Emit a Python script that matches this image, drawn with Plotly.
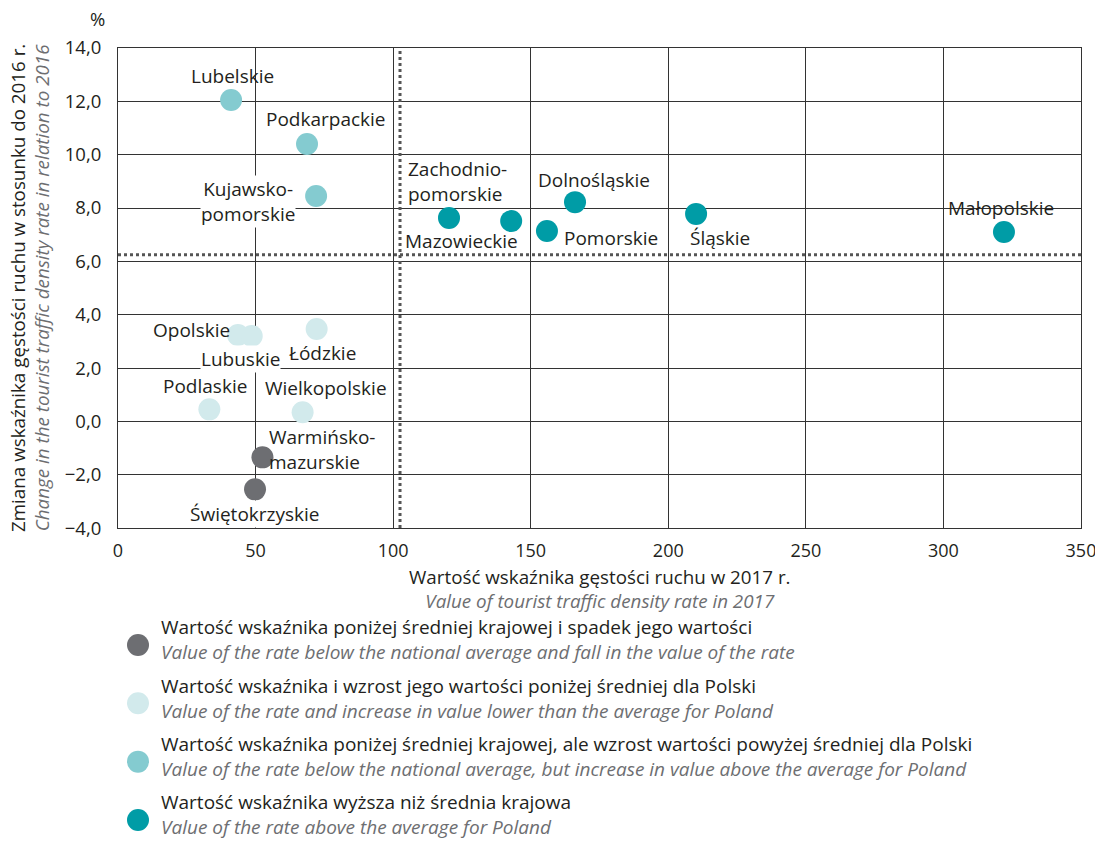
import plotly.graph_objects as go

# ---------------- data ----------------
regions = ["Lubelskie", "Podkarpackie", "Kujawsko-<br>pomorskie",
           "Zachodnio-<br>pomorskie", "Mazowieckie", "Pomorskie", "Dolnośląskie",
           "Śląskie", "Małopolskie", "Opolskie", "Lubuskie", "Łódzkie",
           "Podlaskie", "Wielkopolskie", "Warmińsko-<br>mazurskie", "Świętokrzyskie"]
density_2017 = [41.1, 68.7, 72.0, 120.3, 142.9, 155.9, 166.1, 210.1, 322.0,
                43.6, 48.6, 72.2, 33.2, 67.1, 52.5, 49.8]
change_pct = [12.05, 10.4, 8.45, 7.63, 7.51, 7.14, 8.22, 7.78, 7.1,
              3.24, 3.2, 3.46, 0.45, 0.34, -1.35, -2.55]
group = [2, 2, 2, 3, 3, 3, 3, 3, 3, 1, 1, 1, 1, 1, 0, 0]

avg_density = 102.5
avg_change = 6.25

x_ticks = [0, 50, 100, 150, 200, 250, 300, 350]
y_ticks = [-4, -2, 0, 2, 4, 6, 8, 10, 12, 14]

legend_pl = [
    "Wartość wskaźnika poniżej średniej krajowej i spadek jego wartości",
    "Wartość wskaźnika i wzrost jego wartości poniżej średniej dla Polski",
    "Wartość wskaźnika poniżej średniej krajowej, ale wzrost wartości powyżej średniej dla Polski",
    "Wartość wskaźnika wyższa niż średnia krajowa",
]
legend_en = [
    "Value of the rate below the national average and fall in the value of the rate",
    "Value of the rate and increase in value lower than the average for Poland",
    "Value of the rate below the national average, but increase in value above the average for Poland",
    "Value of the rate above the average for Poland",
]
legend_rows = [0, 1, 2, 3]

# ---------------- style ----------------
colors = ["#6d6e72", "#d2eaec", "#84cbd0", "#009ca6"]
# label offsets (px) relative to marker, and alignment
label_dx = [1, 19, -68, 8, -50, 64, 19, 24, -3, -46, -11, 6, -4, 23, 60, -1]
label_dy = [-24, -25, 5, -36, 20, 7, -22, 24, -24, -5, 23, 24, -23, -24, -8, 25]
label_align = ["center", "center", "center", "left", "center", "center", "center",
               "center", "center", "center", "center", "center", "center",
               "center", "left", "center"]
label_bg = [False, False, True, False, False, False, False, False, False,
            False, True, False, False, False, False, True]

FONT = "Open Sans"
BLACK = "#231f20"
GREY = "#6d6e71"
FS = 18.5

W, H = 1095, 842
MAIN_LOW = 0.3939

fig = go.Figure()

for g in range(4):
    xs = [x for x, gg in zip(density_2017, group) if gg == g]
    ys = [y for y, gg in zip(change_pct, group) if gg == g]
    fig.add_trace(go.Scatter(x=xs, y=ys, mode="markers",
                             marker=dict(size=22, color=colors[g], line=dict(width=0)),
                             showlegend=False, hoverinfo="skip"))

# legend markers on separate axes
fig.add_trace(go.Scatter(x=[0] * 4, y=legend_rows, mode="markers",
                         marker=dict(size=22, color=colors, line=dict(width=0)),
                         xaxis="x2", yaxis="y2", showlegend=False, hoverinfo="skip"))

annotations = []
for i, name in enumerate(regions):
    a = dict(x=density_2017[i], y=change_pct[i], xref="x", yref="y",
             text=name, showarrow=False, xshift=label_dx[i], yshift=-label_dy[i],
             font=dict(family=FONT, size=19, color=BLACK), align=label_align[i])
    if label_bg[i]:
        a["bgcolor"] = "white"
        a["borderpad"] = 0
    annotations.append(a)

for i in range(4):
    annotations.append(dict(
        x=0, y=legend_rows[i], xref="x2", yref="y2", xanchor="left", yanchor="middle",
        xshift=22, yshift=5, showarrow=False, align="left", borderpad=0,
        text=f"{legend_pl[i]}<br><i><span style='color:{GREY}'>{legend_en[i]}</span></i>",
        font=dict(family=FONT, size=19, color=BLACK)))

# axis titles
annotations.append(dict(
    x=0.5, y=MAIN_LOW, xref="paper", yref="paper", yanchor="top", yshift=-34,
    showarrow=False, align="center",
    text=f"Wartość wskaźnika gęstości ruchu w 2017 r.<br><i><span style='color:{GREY}'>Value of tourist traffic density rate in 2017</span></i>",
    font=dict(family=FONT, size=18.8, color=BLACK)))
annotations.append(dict(
    x=0, y=(MAIN_LOW + 1) / 2, xref="paper", yref="paper", xanchor="center",
    yanchor="middle", xshift=-88, showarrow=False, textangle=-90, align="center",
    text=f"Zmiana wskaźnika gęstości ruchu w stosunku do 2016 r.<br><i><span style='color:{GREY}'>Change in the tourist traffic density rate in relation to 2016</span></i>",
    font=dict(family=FONT, size=18.8, color=BLACK)))
annotations.append(dict(
    x=0, y=1, xref="paper", yref="paper", xanchor="center", yanchor="bottom",
    xshift=-21, yshift=15, showarrow=False, text="%",
    font=dict(family=FONT, size=FS, color=BLACK)))

shapes = [
    dict(type="line", xref="x", yref="y domain", x0=avg_density, x1=avg_density, y0=0, y1=1,
         line=dict(color="#555555", width=3, dash="dot"), layer="above"),
    dict(type="line", xref="x domain", yref="y", x0=0, x1=1, y0=avg_change, y1=avg_change,
         line=dict(color="#555555", width=3, dash="dot"), layer="above"),
]

fig.update_layout(
    width=W, height=H,
    margin=dict(l=118, r=14, t=48, b=2),
    paper_bgcolor="white", plot_bgcolor="white",
    separators=", ",
    font=dict(family=FONT, size=FS, color=BLACK),
    xaxis=dict(range=[0, 350], tickvals=x_ticks, showgrid=True, gridcolor="#333333",
               gridwidth=1, showline=True, linecolor="#333333", linewidth=1, mirror=True,
               zeroline=False, ticks="", ticklabelstandoff=6, automargin=False,
               ticklabeloverflow="allow", tickfont=dict(size=18),
               domain=[0, 1], anchor="y"),
    yaxis=dict(range=[-4, 14], tickvals=y_ticks, tickformat=".1f", showgrid=True,
               gridcolor="#333333", gridwidth=1, showline=True, linecolor="#333333",
               linewidth=1, mirror=True, zeroline=True, zerolinecolor="#333333",
               zerolinewidth=1, ticks="", ticklabelstandoff=12, automargin=False,
               domain=[MAIN_LOW, 1], anchor="x"),
    xaxis2=dict(range=[-20, 943], domain=[0, 1], anchor="y2", visible=False),
    yaxis2=dict(range=[3.343, -0.4286], domain=[0, 0.2778], anchor="x2", visible=False),
    shapes=shapes,
    annotations=annotations,
)

fig.write_html("out.html", config={"displayModeBar": False},
               post_script="document.body.style.margin='0';document.body.style.overflow='hidden';")
